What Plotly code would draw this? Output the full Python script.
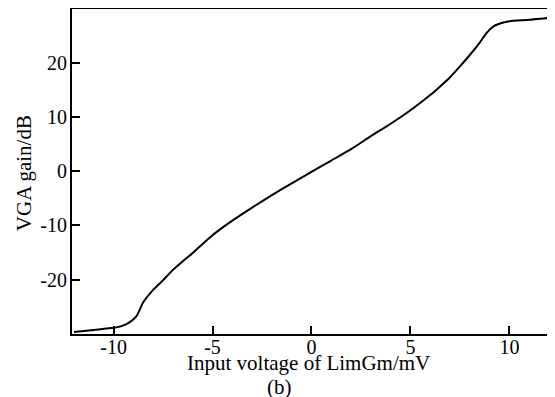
import plotly.graph_objects as go

input_mv = [-12.0, -11.0, -10.0, -9.6, -9.2, -8.85, -8.5, -8.0, -7.5, -7.0, -6.5, -6.0,
            -5.5, -5.0, -4.5, -4.0, -3.0, -2.0, -1.0, 0.0, 1.0, 2.0, 3.0, 4.0, 5.0,
            6.0, 6.5, 7.0, 7.5, 8.0, 8.5, 8.85, 9.2, 9.6, 10.0, 11.0, 12.0]
gain_db = [-29.7, -29.3, -28.9, -28.6, -27.9, -26.8, -24.2, -21.9, -20.1, -18.2, -16.6, -15.1,
           -13.4, -11.8, -10.4, -9.1, -6.7, -4.4, -2.2, -0.1, 2.0, 4.1, 6.5, 8.8, 11.3,
           14.1, 15.7, 17.4, 19.4, 21.5, 23.8, 25.6, 26.8, 27.4, 27.75, 28.0, 28.35]

x_ticks = [-10, -5, 0, 5, 10]
x_tick_text = ["-10", "-5", "0", "5", "10"]
y_ticks = [-20, -10, 0, 10, 20]
y_tick_text = ["-20", "-10", "0", "10", "20"]

font = "Liberation Serif"

fig = go.Figure()
fig.add_trace(go.Scatter(x=input_mv, y=gain_db, mode="lines",
                         line=dict(color="black", width=2, shape="spline", smoothing=0.6),
                         showlegend=False))

axis_common = dict(ticks="inside", ticklen=8, tickwidth=2, tickcolor="black",
                   showgrid=False, zeroline=False, showline=True, linecolor="black",
                   linewidth=2, mirror=True, tickfont=dict(family=font, size=20))

fig.update_layout(
    width=547, height=389,
    margin=dict(l=64, r=6, t=1, b=63, autoexpand=False),
    plot_bgcolor="white", paper_bgcolor="white",
    font=dict(family=font, size=20, color="black"),
    xaxis=dict(range=[-12.1, 12.0], tickvals=x_ticks, ticktext=x_tick_text,
               ticklabelstandoff=-6, **axis_common),
    yaxis=dict(range=[-30.05, 30.0], tickvals=y_ticks, ticktext=y_tick_text,
               ticklabelstandoff=-1, **axis_common),
    annotations=[
        dict(text="Input voltage of LimGm/mV", xref="paper", yref="paper", x=0.495, y=-0.089,
             showarrow=False, font=dict(family=font, size=21), xanchor="center", yanchor="middle"),
        dict(text="(b)", xref="paper", yref="paper", x=0.436, y=-0.163,
             showarrow=False, font=dict(family=font, size=21), xanchor="center", yanchor="middle"),
        dict(text="VGA gain/dB", xref="paper", yref="paper", x=-0.1006, y=0.495, textangle=-90,
             showarrow=False, font=dict(family=font, size=21), xanchor="center", yanchor="middle"),
    ],
)

fig.write_html("out.html")
